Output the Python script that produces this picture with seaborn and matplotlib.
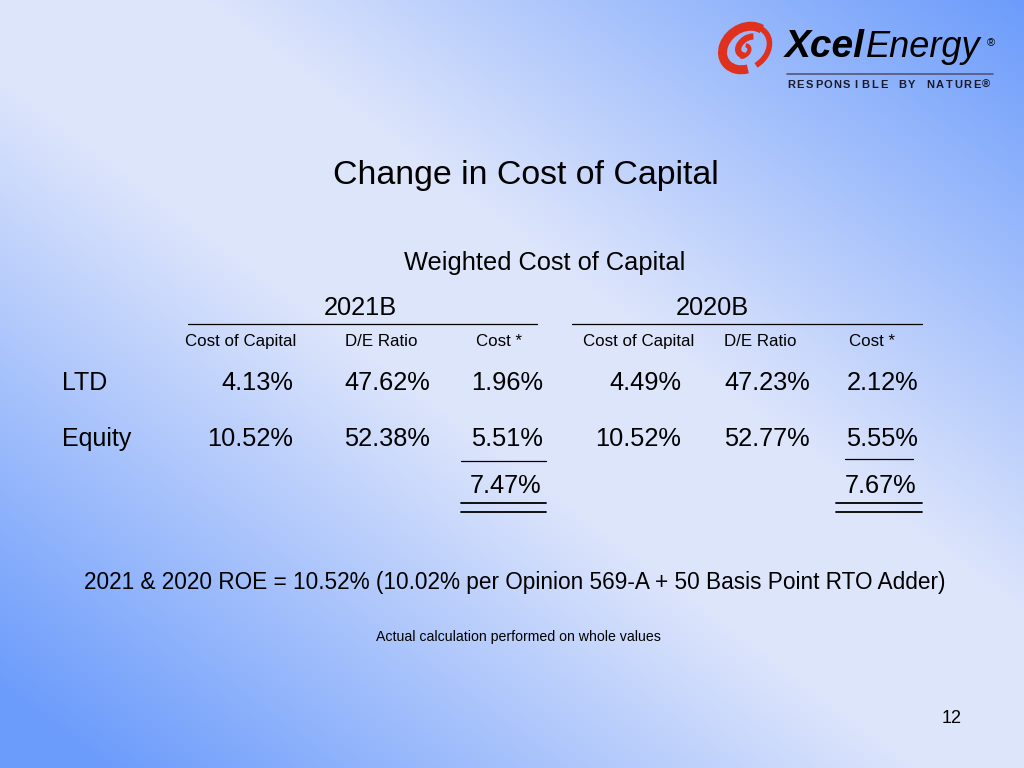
import numpy as np
import seaborn as sns
from matplotlib import pyplot as plt
from matplotlib.colors import LinearSegmentedColormap
from matplotlib.patches import Arc

# slide data
title = "Change in Cost of Capital"
subtitle = "Weighted Cost of Capital"
groups = ["2021B", "2020B"]
sub_headers = ["Cost of Capital", "D/E Ratio", "Cost *"]
row_labels = ["LTD", "Equity"]
cost_2021 = [4.13, 10.52]
de_2021 = [47.62, 52.38]
wcost_2021 = [1.96, 5.51]
total_2021 = 7.47
cost_2020 = [4.49, 10.52]
de_2020 = [47.23, 52.77]
wcost_2020 = [2.12, 5.55]
total_2020 = 7.67
roe_note = "2021 & 2020 ROE = 10.52% (10.02% per Opinion 569-A + 50 Basis Point RTO Adder)"
calc_note = "Actual calculation performed on whole values"
page_no = "12"

sns.set_theme(style="white")
plt.rcParams["font.family"] = ["Liberation Sans", "DejaVu Sans"]

fig = plt.figure(figsize=(10.24, 7.68), dpi=100)
ax = fig.add_axes([0, 0, 1, 1])
ax.set_xlim(0, 1024)
ax.set_ylim(768, 0)
ax.axis("off")

# background: light along the main diagonal, blue toward top-right / bottom-left
u, v = np.meshgrid(np.linspace(0, 1, 256), np.linspace(0, 1, 192))
d = u - v
f = np.where(d > 0, (d - 0.2) / 0.8, (-d - 0.1) / 0.8)
f = np.clip(f, 0, 1)
cmap = LinearSegmentedColormap.from_list("bg", ["#dde5fb", "#6c9cfb"])
ax.imshow(f, cmap=cmap, vmin=0, vmax=1, extent=[0, 1024, 768, 0], aspect="auto", zorder=0)

txt = "#000000"
red = "#e0301e"

# logo swirl
ax.add_patch(Arc((746, 48), 50, 40, angle=-35, theta1=120, theta2=345, lw=6.5, color=red, zorder=3))
ax.add_patch(Arc((746, 48), 50, 40, angle=-35, theta1=-45, theta2=95, lw=4, color=red, zorder=3))
ax.add_patch(Arc((749, 46), 24, 16, angle=-35, theta1=150, theta2=330, lw=4.5, color=red, zorder=3))
ax.add_patch(Arc((743, 51), 14, 10, angle=-35, theta1=-30, theta2=150, lw=3, color=red, zorder=3))

ax.text(785, 57, "Xcel", fontsize=28, fontweight="bold", style="italic", color=txt, zorder=4)
ax.text(866, 57, "Energy", fontsize=26, style="italic", color=txt, zorder=4)
ax.text(987, 46, "®", fontsize=8, color=txt, zorder=4)
ax.plot([787, 993], [74, 74], color="#55557a", lw=1.2, zorder=3)
tag = "RESPONSIBLE BY NATURE®"
for i, ch in enumerate(tag):
    ax.text(791 + i * 9.3, 88, ch, fontsize=8, fontweight="bold", ha="center", color="#1a1a2a", zorder=4)

# titles
ax.text(526, 184, title, fontsize=24.4, ha="center", color=txt)
ax.text(545, 270, subtitle, fontsize=18.3, ha="center", color=txt)

group_centers = [360, 712]
rule_spans = [(188, 537), (572, 922)]
header_x = [[241, 381, 499], [639, 760, 872]]
value_right = [[293, 430, 543], [681, 810, 918]]
row_base = [390, 446]

for g, name in enumerate(groups):
    ax.text(group_centers[g], 315, name, fontsize=18.3, ha="center", color=txt)
    ax.plot(rule_spans[g], [324, 324], color=txt, lw=0.9)
    for k, h in enumerate(sub_headers):
        ax.text(header_x[g][k], 346, h, fontsize=12.2, ha="center", color=txt)

for r, lab in enumerate(row_labels):
    ax.text(62, row_base[r], lab, fontsize=18, color=txt)

cols = [[cost_2021, de_2021, wcost_2021], [cost_2020, de_2020, wcost_2020]]
for g in range(2):
    for k in range(3):
        for r in range(2):
            ax.text(value_right[g][k], row_base[r], f"{cols[g][k][r]:.2f}%",
                    fontsize=18.3, ha="right", color=txt)

# totals and rules
totals = [total_2021, total_2020]
single = [(461, 546, 460.5), (845, 913, 458.5)]
double = [(461, 546), (836, 922)]
for g in range(2):
    ax.text(value_right[g][2] - 2, 493, f"{totals[g]:.2f}%", fontsize=18.3, ha="right", color=txt)
    x0, x1, y = single[g]
    ax.plot([x0, x1], [y, y], color=txt, lw=0.9)
    for y in (502.5, 511.5):
        ax.plot(double[g], [y, y], color=txt, lw=1.3)

ax.text(515, 589, roe_note, fontsize=16.3, ha="center", color=txt)
ax.text(518, 641, calc_note, fontsize=10.2, ha="center", color=txt)
ax.text(952, 723, page_no, fontsize=13, ha="center", color=txt)

plt.savefig("out.png", dpi=100)
plt.close()
